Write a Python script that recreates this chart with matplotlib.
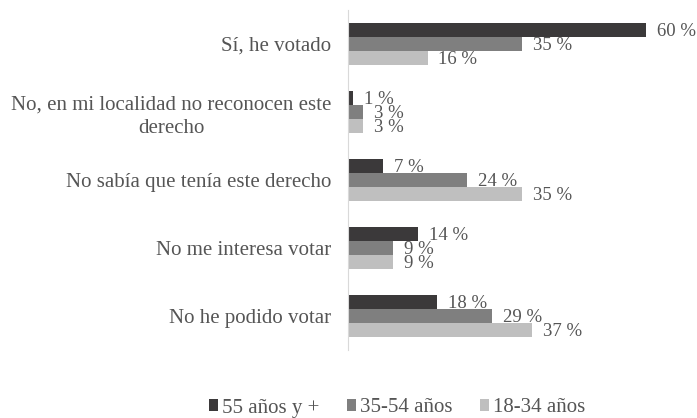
import matplotlib
matplotlib.use("Agg")
import matplotlib.pyplot as plt
import numpy as np

plt.rcParams['font.family'] = ['Liberation Serif', 'DejaVu Serif']

categories = ["Sí, he votado",
              "No, en mi localidad no reconocen este\nderecho",
              "No sabía que tenía este derecho",
              "No me interesa votar",
              "No he podido votar"]
series_names = ["55 años y +", "35-54 años", "18-34 años"]
v55 = [60, 1, 7, 14, 18]
v35 = [35, 3, 24, 9, 29]
v18 = [16, 3, 35, 9, 37]
colors = ["#3b393a", "#7f7f7f", "#bfbfbf"]
text_color = "#555555"

fig = plt.figure(figsize=(6.97, 4.18), dpi=100)
ax = fig.add_axes([348/697, 1-350/418, 330/697, 340/418])

y = np.arange(len(categories))
h = 0.205
for i, (vals, name, c) in enumerate(zip([v55, v35, v18], series_names, colors)):
    pos = y + (i - 1) * h
    ax.barh(pos, vals, height=h, color=c, label=name)
    for p, v in zip(pos, vals):
        ax.text(v + 2.2, p + 0.02, f"{v} %", va='center', ha='left',
                fontsize=13.5, color=text_color)

ax.set_ylim(len(categories) - 0.5, -0.5)
ax.set_xlim(0, 66.4)
ax.set_yticks(y)
ax.set_yticklabels(categories, fontsize=15, color=text_color,
                   multialignment='center', linespacing=1.3)
ax.tick_params(axis='y', length=0, pad=12)
ax.set_xticks([])
for s in ['top', 'right', 'bottom']:
    ax.spines[s].set_visible(False)
ax.spines['left'].set_color('#d9d9d9')

leg = fig.legend(loc='center', bbox_to_anchor=(397/697, 1-408/418), ncol=3,
                 frameon=False, fontsize=15, handlelength=0.45, handleheight=0.45,
                 handletextpad=0.2, columnspacing=1.3)
for t in leg.get_texts():
    t.set_color(text_color)

fig.savefig("out.png", dpi=100)
